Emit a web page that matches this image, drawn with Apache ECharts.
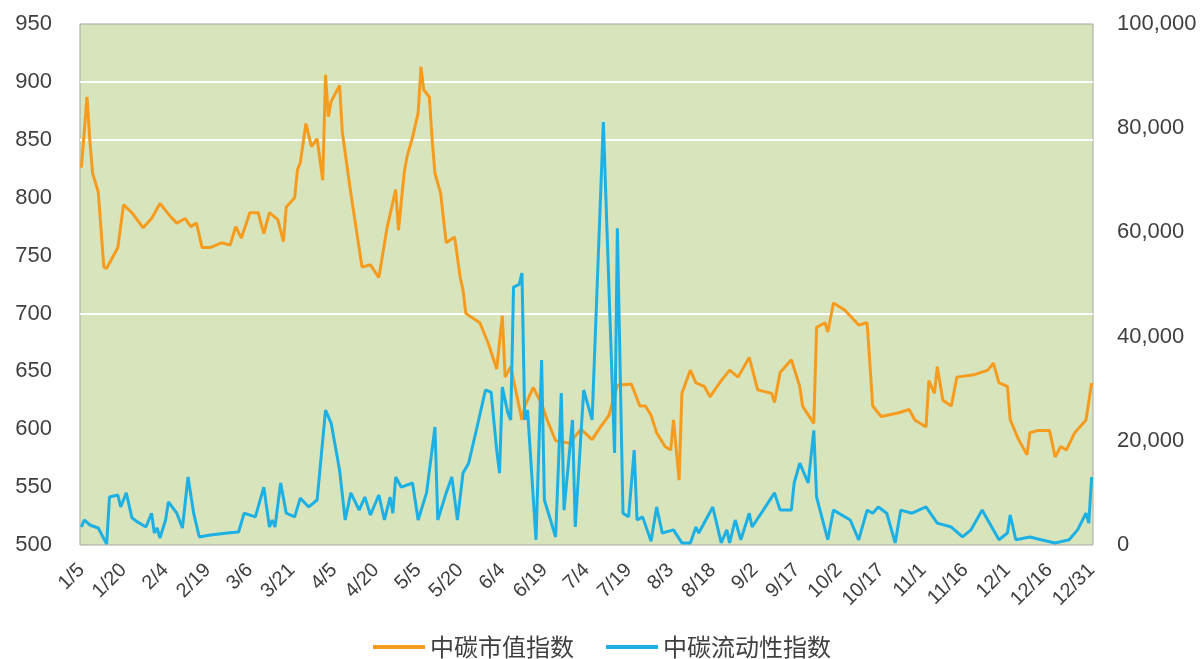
<!DOCTYPE html>
<html>
<head>
<meta charset="utf-8">
<title>中碳指数</title>
<script src="https://cdn.jsdelivr.net/npm/echarts@6/dist/echarts.min.js"></script>
<style>
  html, body { margin: 0; padding: 0; background: #fff; }
  #chart { width: 1204px; height: 659px; }
</style>
</head>
<body>
<div id="chart"></div>
<script>
// 中碳市值指数 (left axis) - sampled points, one row per month
const mvDates = [
  '1/5', '1/7', '1/8', '1/9', '1/11', '1/13', '1/14', '1/18', '1/20', '1/23', '1/27', '1/30',
  '2/2', '2/6', '2/8', '2/11', '2/13', '2/15', '2/17', '2/20', '2/24', '2/27',
  '3/1', '3/3', '3/6', '3/9', '3/11', '3/13', '3/16', '3/18', '3/19', '3/22', '3/23', '3/24', '3/26', '3/28', '3/30',
  '4/1', '4/2', '4/3', '4/4', '4/7', '4/8', '4/11', '4/15', '4/18', '4/21', '4/24', '4/27', '4/28', '4/30',
  '5/1', '5/3', '5/5', '5/6', '5/7', '5/9', '5/10', '5/11', '5/13', '5/15', '5/18', '5/20', '5/21', '5/22', '5/27', '5/30',
  '6/2', '6/4', '6/5', '6/7', '6/11', '6/12', '6/15', '6/18', '6/20', '6/23', '6/28',
  '7/2', '7/6', '7/9', '7/12', '7/15', '7/20', '7/23', '7/25', '7/27', '7/29',
  '8/1', '8/3', '8/4', '8/6', '8/7', '8/10', '8/12', '8/15', '8/17', '8/21', '8/24', '8/27', '8/31',
  '9/3', '9/8', '9/9', '9/11', '9/15', '9/18', '9/19', '9/23', '9/24', '9/27', '9/28', '9/30',
  '10/4', '10/9', '10/12', '10/14', '10/17', '10/23', '10/27', '10/29',
  '11/2', '11/3', '11/5', '11/6', '11/8', '11/11', '11/13', '11/19', '11/24', '11/26', '11/28',
  '12/1', '12/2', '12/5', '12/8', '12/9', '12/12', '12/16', '12/18', '12/20', '12/22', '12/25', '12/29', '12/31'
];
const mvValues = [
  826, 887, 850, 821, 805, 740, 739, 757, 794, 787, 774, 782,
  795, 783, 778, 782, 775, 778, 757, 757, 761, 759,
  775, 765, 787, 787, 769, 787, 781, 762, 792, 800, 824, 830, 864, 844, 851,
  815, 906, 870, 883, 897, 856, 804, 740, 742, 731, 775, 807, 772, 821,
  835, 852, 873, 913, 893, 887, 850, 821, 804, 761, 766, 731, 720, 700, 692, 674,
  652, 698, 645, 654, 608, 620, 636, 622, 608, 590, 588,
  600, 591, 602, 612, 638, 639, 620, 620, 612, 597,
  585, 582, 608, 556, 631, 651, 640, 637, 628, 642, 651, 645, 662,
  634, 631, 623, 649, 660, 637, 620, 605, 688, 692, 684, 709,
  703, 690, 692, 620, 611, 614, 617, 608,
  602, 642, 631, 654, 625, 620, 645, 647, 651, 657, 640,
  637, 608, 591, 578, 597, 599, 599, 576, 585, 582, 597, 608, 640
];

// 中碳流动性指数 (right axis)
const liqDates = [
  '1/5', '1/6', '1/8', '1/11', '1/14', '1/15', '1/18', '1/19', '1/21', '1/23', '1/25', '1/28', '1/30', '1/31',
  '2/1', '2/2', '2/4', '2/5', '2/8', '2/10', '2/12', '2/14', '2/16', '2/20', '2/26',
  '3/2', '3/4', '3/8', '3/11', '3/13', '3/14', '3/15', '3/17', '3/19', '3/22', '3/24', '3/27', '3/30',
  '4/2', '4/4', '4/7', '4/9', '4/11', '4/14', '4/16', '4/18', '4/21', '4/23', '4/25', '4/26', '4/27', '4/29',
  '5/3', '5/5', '5/8', '5/11', '5/12', '5/15', '5/17', '5/19', '5/21', '5/23', '5/26', '5/29', '5/31',
  '6/2', '6/3', '6/4', '6/6', '6/7', '6/8', '6/10', '6/11', '6/12', '6/13', '6/16', '6/18', '6/19', '6/23', '6/25', '6/26', '6/29', '6/30',
  '7/3', '7/6', '7/10', '7/14', '7/15', '7/17', '7/19', '7/21', '7/22', '7/24', '7/27', '7/29', '7/31',
  '8/4', '8/7', '8/10', '8/12', '8/13', '8/18', '8/21', '8/23', '8/24', '8/26', '8/28', '8/31',
  '9/1', '9/5', '9/9', '9/11', '9/15', '9/16', '9/18', '9/21', '9/23', '9/24', '9/28', '9/30',
  '10/6', '10/9', '10/12', '10/14', '10/16', '10/19', '10/22', '10/24', '10/28',
  '11/2', '11/6', '11/11', '11/15', '11/18', '11/22', '11/24', '11/28',
  '12/1', '12/2', '12/4', '12/9', '12/13', '12/18', '12/23', '12/26', '12/29', '12/30', '12/31'
];
const liqValues = [
  3450, 4800, 3840, 3260, 200, 9200, 9600, 7300, 10000, 5200, 4400, 3450, 6100, 2300,
  3260, 1340, 4800, 8250, 6100, 3260, 13050, 6100, 1540, 1900, 2300,
  2500, 6100, 5400, 11100, 3450, 4800, 3450, 11900, 6100, 5400, 9000, 7300, 8640,
  25900, 23400, 14400, 4800, 10000, 6700, 9200, 5750, 9600, 4800, 9200, 6100, 13050, 11100,
  11900, 4800, 10000, 22650, 4800, 10000, 13050, 4800, 13800, 15700, 22650, 29750, 29350,
  18200, 13800, 30300, 25300, 24000, 49500, 50000, 52200, 24000, 25900, 1000, 35500, 8640, 1540, 29150, 6700, 24000, 3450,
  29750, 24000, 81200, 17650, 60800, 6100, 5400, 18200, 4800, 5400, 700, 7300, 2300,
  2900, 400, 400, 3450, 2300, 7300, 400, 2900, 400, 4800, 1000, 6100,
  3450, 6700, 10000, 6700, 6700, 11900, 15700, 11900, 22000, 9200, 1000, 6700,
  4800, 1000, 6700, 6100, 7300, 6100, 400, 6700, 6100,
  7300, 4200, 3450, 1540, 2900, 6700, 4800, 1000,
  2300, 5750, 1000, 1540, 1000, 400, 1000, 2900, 6100, 4200, 13050
];

const gridValues = [900, 850, 700];
const seriesNames = ['中碳市值指数', '中碳流动性指数'];

// every calendar day shown on the axis, 1/5 .. 12/31
const days = [];
for (let d = new Date(2015, 0, 5); d <= new Date(2015, 11, 31); d.setDate(d.getDate() + 1)) {
  days.push((d.getMonth() + 1) + '/' + d.getDate());
}

const zip = (xs, ys) => xs.map((x, i) => [x, ys[i]]);
const labelFont = 'Liberation Sans, Arial, sans-serif';

const chart = echarts.init(document.getElementById('chart'));
chart.setOption({
  animation: false,
  grid: {
    left: 80, right: 111, top: 24, bottom: 114,
    show: true,
    backgroundColor: '#d8e4bc',
    borderColor: '#a6a6a6',
    borderWidth: 1
  },
  legend: {
    top: 630,
    left: 'center',
    icon: 'rect',
    itemWidth: 52,
    itemHeight: 4,
    itemGap: 32,
    textStyle: { fontSize: 24, color: '#404040', fontFamily: 'Noto Sans CJK SC' },
    data: seriesNames
  },
  xAxis: {
    type: 'category',
    data: days,
    boundaryGap: true,
    axisLine: { show: false },
    axisTick: { show: false },
    axisLabel: {
      interval: 14,
      rotate: 45,
      margin: 22,
      fontSize: 20,
      color: '#404040',
      fontFamily: labelFont
    }
  },
  yAxis: [{
    type: 'value',
    min: 500,
    max: 950,
    interval: 50,
    splitLine: { show: false },
    axisLine: { show: false },
    axisTick: { show: false },
    axisLabel: { fontSize: 22, color: '#404040', margin: 28, fontFamily: labelFont }
  }, {
    type: 'value',
    min: 0,
    max: 100000,
    interval: 20000,
    splitLine: { show: false },
    axisLine: { show: false },
    axisTick: { show: false },
    axisLabel: {
      fontSize: 22, color: '#404040', margin: 24, fontFamily: labelFont,
      formatter: v => v.toLocaleString('en-US')
    }
  }],
  series: [{
    name: seriesNames[0],
    type: 'line',
    yAxisIndex: 0,
    showSymbol: false,
    symbol: 'none',
    color: '#f59c1f',
    lineStyle: { width: 3, color: '#f59c1f' },
    data: zip(mvDates, mvValues),
    markLine: {
      silent: true,
      symbol: 'none',
      z: 1,
      label: { show: false },
      lineStyle: { color: '#ffffff', width: 2, type: 'solid' },
      data: gridValues.map(v => ({ yAxis: v }))
    }
  }, {
    name: seriesNames[1],
    type: 'line',
    yAxisIndex: 1,
    showSymbol: false,
    symbol: 'none',
    color: '#1cb0e4',
    lineStyle: { width: 3, color: '#1cb0e4' },
    data: zip(liqDates, liqValues)
  }]
});
</script>
</body>
</html>
